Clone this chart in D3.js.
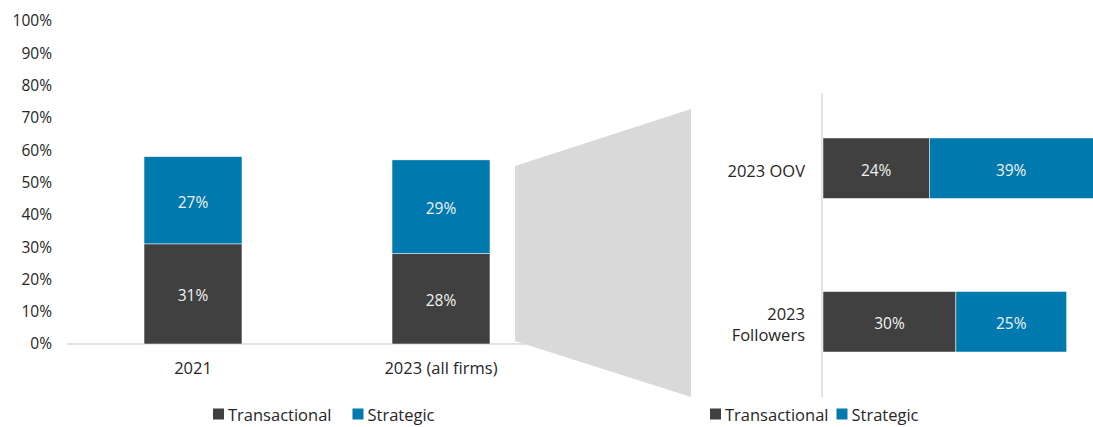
<!DOCTYPE html>
<html>
<head>
<meta charset="utf-8">
<script src="https://cdn.jsdelivr.net/npm/d3@7"></script>
<style>
  body { margin: 0; background: #fff; }
  text { font-family: "Open Sans", sans-serif; }
</style>
</head>
<body>
<div id="wrapper"></div>
<script>
// data for the left stacked columns
const leftCategories = ["2021", "2023 (all firms)"]
const leftTransactional = [0.31, 0.28]
const leftStrategic = [0.27, 0.29]
const yTickValues = [0, 0.1, 0.2, 0.3, 0.4, 0.5, 0.6, 0.7, 0.8, 0.9, 1]

// data for the right stacked bars (drill-down of 2023)
const rightCategories = ["2023 OOV", "2023 Followers"]
const rightLabelLines = [["2023 OOV"], ["2023", "Followers"]]
const rightTransactional = [0.24, 0.30]
const rightStrategic = [0.39, 0.25]

const seriesNames = ["Transactional", "Strategic"]
const colors = { Transactional: "#404040", Strategic: "#0079ae" }

function drawChart() {
    const width = 1093
    const height = 427
    const svg = d3.select("#wrapper").append("svg")
        .attr("width", width)
        .attr("height", height)

    const fmt = d3.format(".0%")
    const labelSize = "16.5px"

    // ---- left panel ----
    const yScale = d3.scaleLinear().domain([0, 1]).range([344, 21])
    const xScale = d3.scaleBand()
        .domain(leftCategories)
        .range([69, 565])
        .paddingInner(0.605)
        .paddingOuter(0.3025)

    // baseline
    svg.append("line")
        .attr("x1", 67).attr("x2", 565)
        .attr("y1", yScale(0)).attr("y2", yScale(0))
        .attr("stroke", "#d9d9d9").attr("stroke-width", 1.5)

    // y axis labels
    const yAxis = svg.append("g")
        .attr("transform", "translate(52,0)")
        .call(d3.axisLeft(yScale).tickValues(yTickValues).tickFormat(fmt).tickSize(0).tickPadding(0))
    yAxis.select(".domain").remove()
    yAxis.selectAll("text")
        .style("font-family", "'Open Sans', sans-serif")
        .style("font-size", "15.5px")
        .attr("fill", "#262626")

    // x axis labels
    const xAxis = svg.append("g")
        .attr("transform", `translate(0,${yScale(0)})`)
        .call(d3.axisBottom(xScale).tickSize(0).tickPadding(18))
    xAxis.select(".domain").remove()
    xAxis.selectAll("text")
        .style("font-family", "'Open Sans', sans-serif")
        .style("font-size", labelSize)
        .attr("fill", "#262626")

    const leftRows = leftCategories.map((c, i) => ({ cat: c, Transactional: leftTransactional[i], Strategic: leftStrategic[i] }))
    const leftStack = d3.stack().keys(seriesNames)(leftRows)

    const leftGroups = svg.append("g").selectAll("g")
        .data(leftStack)
        .join("g")
        .attr("fill", d => colors[d.key])

    leftGroups.selectAll("rect")
        .data(d => d)
        .join("rect")
        .attr("x", d => xScale(d.data.cat))
        .attr("width", xScale.bandwidth())
        .attr("y", d => yScale(d[1]))
        .attr("height", d => yScale(d[0]) - yScale(d[1]))
        .attr("stroke", "#ffffff").attr("stroke-width", 0.5)

    leftGroups.selectAll("text")
        .data(d => d)
        .join("text")
        .attr("x", d => xScale(d.data.cat) + xScale.bandwidth() / 2)
        .attr("y", d => yScale((d[0] + d[1]) / 2) + 1.5)
        .attr("text-anchor", "middle")
        .attr("dominant-baseline", "central")
        .attr("fill", "#f2f2f2")
        .style("font-size", "15.5px")
        .text(d => fmt(d[1] - d[0]))

    // ---- funnel connector ----
    const funnel = [[515, 166], [691, 109], [691, 397], [515, 341]]
    svg.append("path")
        .attr("d", d3.line()(funnel) + "Z")
        .attr("fill", "#d9d9d9")

    // ---- right panel ----
    const xRight = d3.scaleLinear().domain([0, 1]).range([823, 823 + 443])
    const yRight = d3.scaleBand()
        .domain(rightCategories)
        .range([93, 397])
        .paddingInner(0.606)
        .paddingOuter(0.293)

    svg.append("line")
        .attr("x1", 822).attr("x2", 822)
        .attr("y1", 93).attr("y2", 397)
        .attr("stroke", "#d9d9d9").attr("stroke-width", 1.5)

    const rightRows = rightCategories.map((c, i) => ({ cat: c, Transactional: rightTransactional[i], Strategic: rightStrategic[i] }))
    const rightStack = d3.stack().keys(seriesNames)(rightRows)

    const rightGroups = svg.append("g").selectAll("g")
        .data(rightStack)
        .join("g")
        .attr("fill", d => colors[d.key])

    rightGroups.selectAll("rect")
        .data(d => d)
        .join("rect")
        .attr("x", d => xRight(d[0]))
        .attr("width", d => xRight(d[1]) - xRight(d[0]))
        .attr("y", d => yRight(d.data.cat))
        .attr("height", yRight.bandwidth())
        .attr("stroke", "#ffffff").attr("stroke-width", 0.5)

    rightGroups.selectAll("text")
        .data(d => d)
        .join("text")
        .attr("x", d => Math.min(xRight((d[0] + d[1]) / 2), (xRight(d[0]) + width) / 2))
        .attr("y", d => yRight(d.data.cat) + yRight.bandwidth() / 2 + 1.5)
        .attr("text-anchor", "middle")
        .attr("dominant-baseline", "central")
        .attr("fill", "#f2f2f2")
        .style("font-size", "15.5px")
        .text(d => fmt(d[1] - d[0]))

    // category labels for right bars
    svg.append("g").selectAll("text")
        .data(rightCategories)
        .join("text")
        .attr("x", 805)
        .attr("y", (d, i) => yRight(d) + yRight.bandwidth() / 2 - (rightLabelLines[i].length - 1) * 10.5 + 2)
        .attr("text-anchor", "end")
        .attr("dominant-baseline", "central")
        .attr("fill", "#262626")
        .style("font-size", labelSize)
        .selectAll("tspan")
        .data((d, i) => rightLabelLines[i])
        .join("tspan")
        .attr("x", 805)
        .attr("dy", (d, j) => j === 0 ? 0 : 21)
        .text(d => d)

    // ---- legends ----
    function legend(x0, gap) {
        const g = svg.append("g").attr("transform", `translate(${x0},414)`)
        let x = 0
        seriesNames.forEach((name, i) => {
            g.append("rect")
                .attr("x", x).attr("y", -5.5)
                .attr("width", 11).attr("height", 11)
                .attr("fill", colors[name])
            const t = g.append("text")
                .attr("x", x + 15).attr("y", 0)
                .attr("dominant-baseline", "central")
                .attr("fill", "#262626")
                .style("font-size", labelSize)
                .text(name)
            x += 15 + t.node().getComputedTextLength() + gap
        })
    }
    legend(213, 21)
    legend(710, 8)
}

drawChart()
</script>
</body>
</html>
